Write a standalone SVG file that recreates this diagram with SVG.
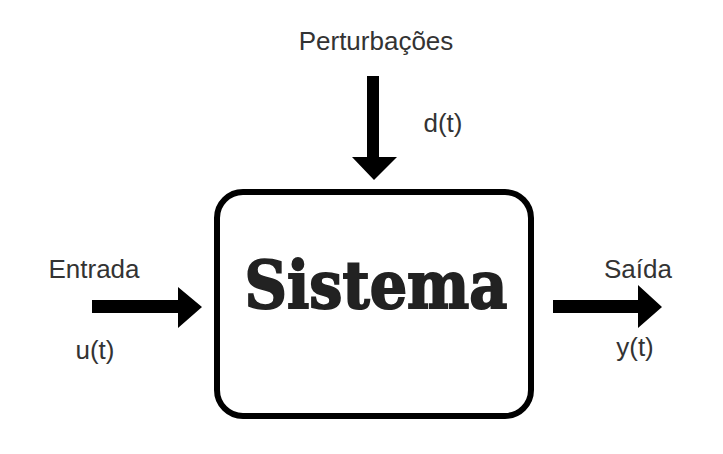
<svg xmlns="http://www.w3.org/2000/svg" width="723" height="454" viewBox="0 0 723 454">
<style>
.lbl{font-family:"Liberation Sans",Arial,sans-serif;font-size:26px;fill:#333;}
.arr{fill:#000;}
</style>
<rect width="723" height="454" fill="#fff"/>
<g id="sistema">
<rect x="217" y="192" width="314" height="224" rx="26" ry="26" fill="#fff" stroke="#000" stroke-width="6"/>
<text x="376" y="308" text-anchor="middle" font-family="'DejaVu Serif','Liberation Serif',serif" font-weight="bold" font-size="66" fill="#222" stroke="#222" stroke-width="2" textLength="263" lengthAdjust="spacingAndGlyphs">Sistema</text>
</g>
<g id="perturbacoes">
<text class="lbl" x="376" y="50" text-anchor="middle">Perturbações</text>
<text class="lbl" x="443" y="132" text-anchor="middle">d(t)</text>
</g>
<g id="entrada">
<text class="lbl" x="94" y="278" text-anchor="middle">Entrada</text>
<text class="lbl" x="95" y="359" text-anchor="middle">u(t)</text>
</g>
<g id="saida">
<text class="lbl" x="638" y="278" text-anchor="middle">Saída</text>
<text class="lbl" x="635" y="356" text-anchor="middle">y(t)</text>
</g>
<g id="connectors">
<polygon class="arr" points="367,76 379,76 379,157 397,157 374,180 352,157 367,157"/>
<polygon class="arr" points="92,300 178,300 178,287 202,307 178,328 178,313 92,313"/>
<polygon class="arr" points="553,300 638,300 638,285 662,307 638,328 638,313 553,313"/>
</g>
</svg>
